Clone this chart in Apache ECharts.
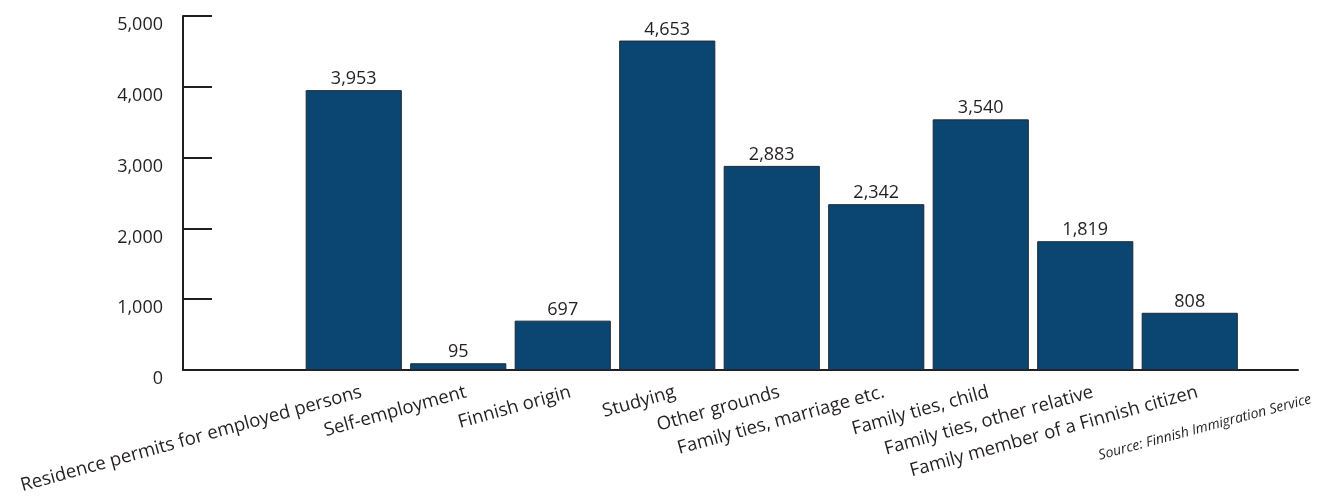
<!DOCTYPE html>
<html>
<head>
<meta charset="utf-8">
<script src="https://cdn.jsdelivr.net/npm/echarts@6/dist/echarts.min.js"></script>
<style>
html,body{margin:0;padding:0;background:#fff;}
#chart{width:1331px;height:504px;}
</style>
</head>
<body>
<div id="chart"></div>
<script>
const categories = [
  'Residence permits for employed persons',
  'Self-employment',
  'Finnish origin',
  'Studying',
  'Other grounds',
  'Family ties, marriage etc.',
  'Family ties, child',
  'Family ties, other relative',
  'Family member of a Finnish citizen'
];
const permits = [3953, 95, 697, 4653, 2883, 2342, 3540, 1819, 808];
const yTicks = [0, 1000, 2000, 3000, 4000, 5000];
const sourceNote = 'Source: Finnish Immigration Service';

const fmt = v => Number(v).toLocaleString('en-US');
const ink = '#231f20';
const chart = echarts.init(document.getElementById('chart'));
chart.setOption({
  animation: false,
  backgroundColor: '#fff',
  grid: [
    { left: 301.5, right: 89, top: 16, bottom: 134 },
    { left: 183, right: 33, top: 16, bottom: 134 }
  ],
  xAxis: [
    {
      type: 'category', gridIndex: 0, data: categories,
      axisLine: { show: false }, axisTick: { show: false },
      axisLabel: {
        interval: 0, rotate: 15.5, margin: 24,
        fontFamily: 'Open Sans', fontSize: 18.5, color: ink,
        padding: [0, -8, 0, 0]
      }
    },
    {
      type: 'value', gridIndex: 1, min: 0, max: 1,
      axisLine: { show: true, lineStyle: { color: ink, width: 2 } },
      axisTick: { show: false }, axisLabel: { show: false }, splitLine: { show: false }
    }
  ],
  yAxis: [
    { type: 'value', gridIndex: 0, min: 0, max: yTicks[yTicks.length - 1], interval: 1000, show: false },
    {
      type: 'value', gridIndex: 1, min: yTicks[0], max: yTicks[yTicks.length - 1], interval: 1000,
      axisLine: { show: true, lineStyle: { color: ink, width: 2 } },
      axisTick: { show: true, inside: true, length: 29, lineStyle: { color: ink, width: 2 } },
      axisLabel: {
        margin: 20, fontFamily: 'Open Sans', fontSize: 18, color: ink,
        verticalAlign: 'top', lineHeight: 18, formatter: v => fmt(v)
      },
      splitLine: { show: false }
    }
  ],
  series: [{
    type: 'bar', xAxisIndex: 0, yAxisIndex: 0, data: permits,
    barCategoryGap: '8%',
    itemStyle: { color: '#0b4571', borderColor: '#1d2a36', borderWidth: 1 },
    label: {
      show: true, position: 'top', distance: 2,
      fontFamily: 'Open Sans', fontSize: 18, color: ink,
      formatter: p => fmt(p.value)
    }
  }],
  graphic: [{
    type: 'text', x: 1311, y: 399, rotation: 15 * Math.PI / 180,
    style: {
      text: sourceNote, fontFamily: 'Open Sans', fontStyle: 'italic', fontSize: 14,
      fill: ink, textAlign: 'right', textVerticalAlign: 'middle'
    }
  }]
});
</script>
</body>
</html>
